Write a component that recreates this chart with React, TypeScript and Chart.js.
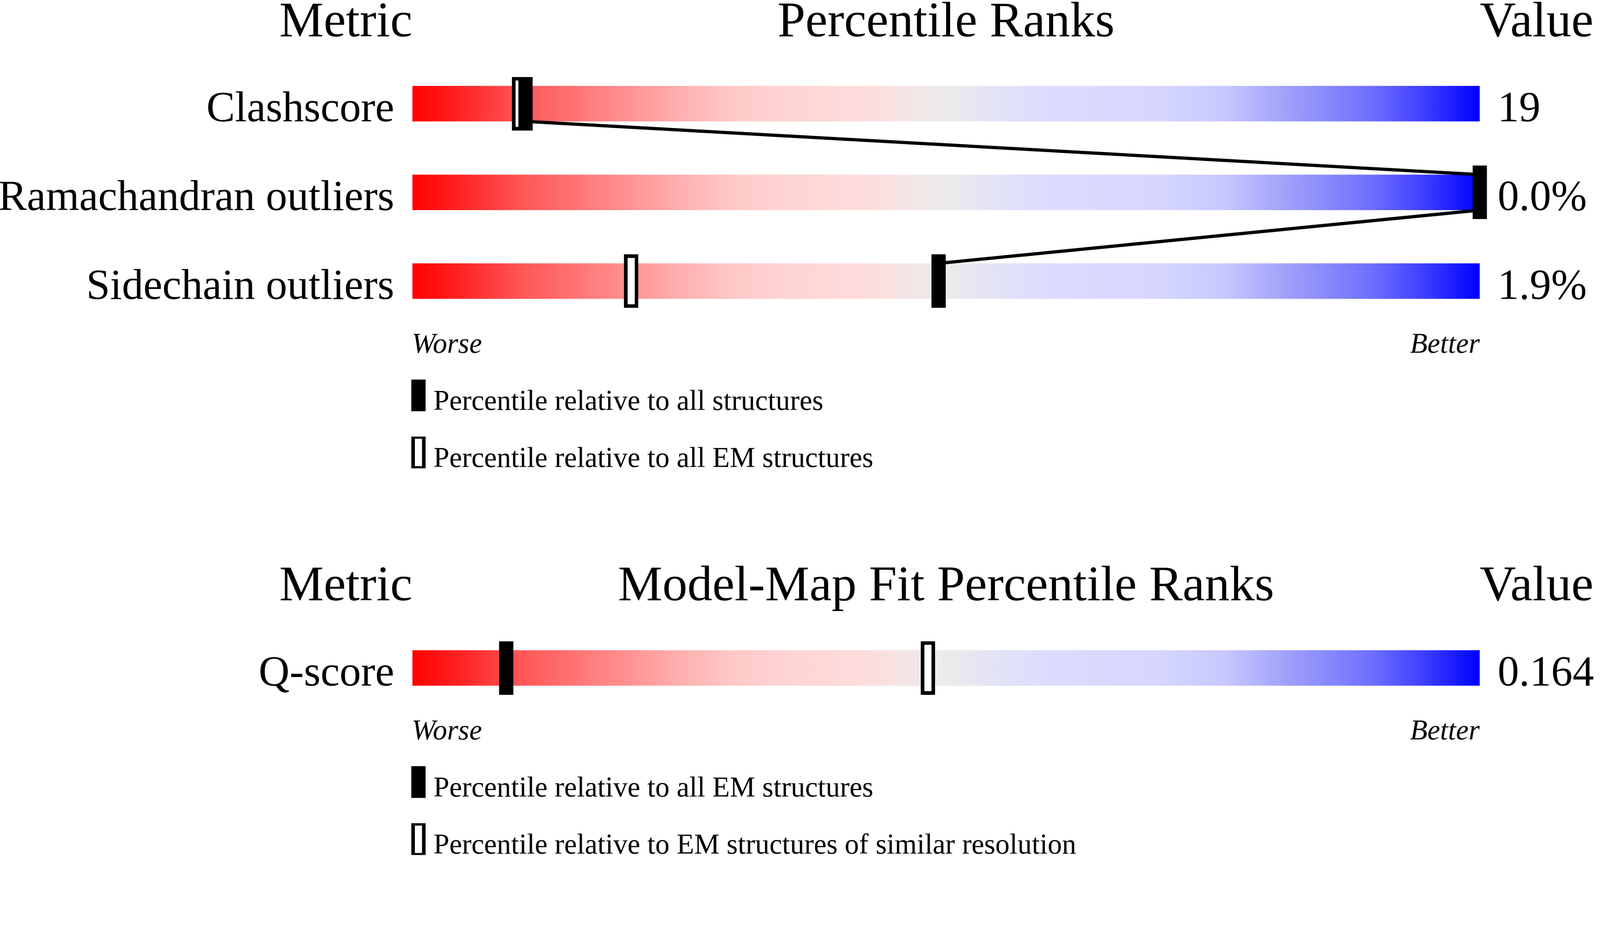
import React, { useEffect, useRef } from "react";
import { Chart, registerables } from "chart.js";

Chart.register(...registerables);

// ---------------- data ----------------
const QUALITY_TITLES = ["Metric", "Percentile Ranks", "Value"];
const QUALITY_METRICS = ["Clashscore", "Ramachandran outliers", "Sidechain outliers"];
const QUALITY_VALUES = ["19", "0.0%", "1.9%"];
const QUALITY_PCT_ALL = [10.6, 100, 49.3];
const QUALITY_PCT_EM = [10.0, 100, 20.5];
const QUALITY_LEGEND = [
  "Percentile relative to all structures",
  "Percentile relative to all EM structures",
];

const FIT_TITLES = ["Metric", "Model-Map Fit Percentile Ranks", "Value"];
const FIT_METRICS = ["Q-score"];
const FIT_VALUES = ["0.164"];
const FIT_PCT_EM = [8.8];
const FIT_PCT_RES = [48.3];
const FIT_LEGEND = [
  "Percentile relative to all EM structures",
  "Percentile relative to EM structures of similar resolution",
];

const SCALE_ENDS = ["Worse", "Better"];

const GRADIENT_POS = [0, 0.05, 0.1, 0.15, 0.2, 0.25, 0.3, 0.35, 0.42, 0.46, 0.5, 0.54, 0.6, 0.7, 0.76, 0.82, 0.9, 0.95, 1];
const GRADIENT_COL = [
  "rgb(255,0,0)", "rgb(255,40,40)", "rgb(255,85,85)", "rgb(255,115,115)", "rgb(255,145,145)",
  "rgb(255,175,175)", "rgb(255,200,200)", "rgb(255,212,212)", "rgb(255,220,220)", "rgb(245,228,228)",
  "rgb(236,236,236)", "rgb(228,228,245)", "rgb(220,220,255)", "rgb(214,214,255)", "rgb(200,200,255)",
  "rgb(160,160,252)", "rgb(110,110,255)", "rgb(60,60,255)", "rgb(0,0,255)",
];

// ---------------- layout ----------------
const W = 4485;
const H = 2402;
const BAR_LEFT = 1153;
const BAR_SPAN = 3000;
const BAR_H = 100;
const MARK_W = 40;
const MARK_H = 150;
const SEC1_TITLE_BASE = 96;
const SEC1_ROWS = [286, 536, 786];
const SEC2_TITLE_BASE = 1685;
const SEC2_ROWS = [1876];
const FONT = '"Liberation Serif", "Times New Roman", serif';

function makeMarker(open: boolean, w: number, h: number, bx: number, by: number) {
  const c = document.createElement("canvas");
  c.width = w;
  c.height = h;
  const g = c.getContext("2d")!;
  g.fillStyle = "#000";
  g.fillRect(0, 0, w, h);
  if (open) {
    g.fillStyle = "#fff";
    g.fillRect(bx, by, w - 2 * bx, h - 2 * by);
  }
  return c;
}

export default function App() {
  const ref = useRef<HTMLCanvasElement | null>(null);
  const cssW = typeof window !== "undefined" ? window.innerWidth : W;
  const cssH = (cssW * H) / W;

  useEffect(() => {
    const canvas = ref.current;
    if (!canvas) return;
    document.body.style.margin = "0";
    document.body.style.overflow = "hidden";
    const filled = makeMarker(false, MARK_W, MARK_H, 10, 10);
    const open = makeMarker(true, MARK_W, MARK_H, 10, 10);
    const legFilled = makeMarker(false, 40, 89, 10, 6);
    const legOpen = makeMarker(true, 40, 89, 10, 6);

    const xMin = (-BAR_LEFT / BAR_SPAN) * 100;
    const xMax = ((W - BAR_LEFT) / BAR_SPAN) * 100;

    const linePts: { x: number; y: number }[] = [];
    for (let i = 0; i < QUALITY_PCT_ALL.length; i++) {
      if (i > 0) linePts.push({ x: QUALITY_PCT_ALL[i], y: SEC1_ROWS[i] - BAR_H / 2 });
      if (i < QUALITY_PCT_ALL.length - 1) linePts.push({ x: QUALITY_PCT_ALL[i], y: SEC1_ROWS[i] + BAR_H / 2 });
    }

    const drawSection = (chart: any, titles: string[], titleBase: number, metrics: string[], values: string[], rows: number[], legend: string[]) => {
      const { ctx, scales } = chart;
      const xs = scales.x;
      const ys = scales.y;
      const x0 = xs.getPixelForValue(0);
      const x1 = xs.getPixelForValue(100);
      ctx.save();
      ctx.fillStyle = "#000";
      ctx.textBaseline = "alphabetic";
      ctx.font = `140px ${FONT}`;
      ctx.textAlign = "right";
      ctx.fillText(titles[0], x0, ys.getPixelForValue(titleBase));
      ctx.textAlign = "center";
      ctx.fillText(titles[1], (x0 + x1) / 2, ys.getPixelForValue(titleBase));
      ctx.textAlign = "left";
      ctx.fillText(titles[2], x1, ys.getPixelForValue(titleBase));

      ctx.font = `120px ${FONT}`;
      rows.forEach((r, i) => {
        const base = ys.getPixelForValue(r + BAR_H / 2);
        ctx.textAlign = "right";
        ctx.fillText(metrics[i], x0 - 51, base);
        ctx.textAlign = "left";
        ctx.fillText(values[i], x1 + 50, base);
      });

      const lastBottom = ys.getPixelForValue(rows[rows.length - 1] + BAR_H / 2);
      const worseBase = lastBottom + 151;
      ctx.font = `italic 80px ${FONT}`;
      ctx.textAlign = "left";
      ctx.fillText(SCALE_ENDS[0], x0 - 2, worseBase);
      ctx.textAlign = "right";
      ctx.fillText(SCALE_ENDS[1], x1, worseBase);

      ctx.font = `80px ${FONT}`;
      ctx.textAlign = "left";
      legend.forEach((t, i) => {
        const top = worseBase + 75 + i * 160;
        ctx.drawImage(i === 0 ? legFilled : legOpen, x0 - 3, top);
        ctx.fillText(t, x0 + 59, top + 85);
      });
      ctx.restore();
    };

    const artPlugin = {
      id: "art",
      beforeDraw(chart: any) {
        const { ctx } = chart;
        ctx.save();
        ctx.fillStyle = "#fff";
        ctx.fillRect(0, 0, chart.width, chart.height);
        ctx.restore();
      },
      beforeDatasetsDraw(chart: any) {
        const { ctx, scales } = chart;
        const x0 = scales.x.getPixelForValue(0);
        const x1 = scales.x.getPixelForValue(100);
        const grad = ctx.createLinearGradient(x0, 0, x1, 0);
        GRADIENT_POS.forEach((p, i) => grad.addColorStop(p, GRADIENT_COL[i]));
        ctx.save();
        ctx.fillStyle = grad;
        [...SEC1_ROWS, ...SEC2_ROWS].forEach((r) => {
          const top = scales.y.getPixelForValue(r - BAR_H / 2);
          const bot = scales.y.getPixelForValue(r + BAR_H / 2);
          ctx.fillRect(x0, top, x1 - x0, bot - top);
        });
        ctx.restore();
      },
      afterDatasetsDraw(chart: any) {
        drawSection(chart, QUALITY_TITLES, SEC1_TITLE_BASE, QUALITY_METRICS, QUALITY_VALUES, SEC1_ROWS, QUALITY_LEGEND);
        drawSection(chart, FIT_TITLES, SEC2_TITLE_BASE, FIT_METRICS, FIT_VALUES, SEC2_ROWS, FIT_LEGEND);
      },
    };

    const markerDs = (pcts: number[], rows: number[], style: HTMLCanvasElement, label: string) => ({
      label,
      data: pcts.map((p, i) => ({ x: p, y: rows[i] })),
      pointStyle: style,
      pointRadius: 5,
      showLine: false,
      clip: false as any,
    });

    const chart = new Chart(canvas, {
      type: "scatter",
      data: {
        datasets: [
          markerDs(QUALITY_PCT_ALL, SEC1_ROWS, filled, "all"),
          markerDs(FIT_PCT_EM, SEC2_ROWS, filled, "em"),
          markerDs(QUALITY_PCT_EM, SEC1_ROWS, open, "em-open"),
          markerDs(FIT_PCT_RES, SEC2_ROWS, open, "res-open"),
          {
            label: "link",
            data: linePts,
            showLine: true,
            borderColor: "#000",
            borderWidth: 9,
            pointRadius: 0,
            tension: 0,
            clip: false as any,
          } as any,
        ],
      },
      options: {
        animation: false,
        responsive: false,
        devicePixelRatio: 1,
        events: [],
        layout: { padding: 0 },
        plugins: { legend: { display: false }, tooltip: { enabled: false } },
        scales: {
          x: { type: "linear", min: xMin, max: xMax, display: false },
          y: { type: "linear", min: 0, max: H, reverse: true, display: false },
        },
      },
      plugins: [artPlugin],
    });
    return () => chart.destroy();
  }, []);

  return (
    <div style={{ position: "fixed", left: 0, top: 0, width: cssW, height: cssH, background: "#fff", overflow: "hidden" }}>
      <canvas ref={ref} width={W} height={H} style={{ display: "block", width: cssW, height: cssH }} />
    </div>
  );
}
